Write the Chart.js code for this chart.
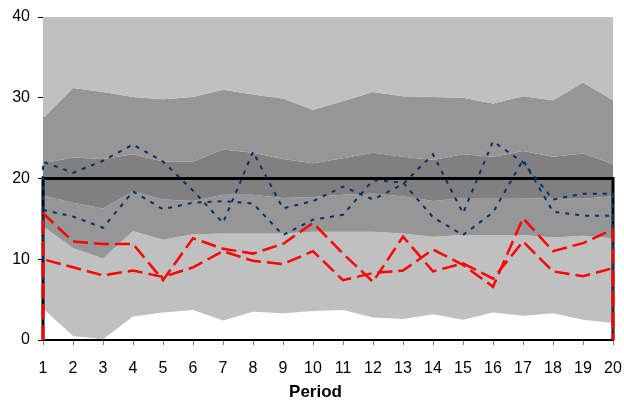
<!DOCTYPE html>
<html>
<head>
<meta charset="utf-8">
<script src="https://cdn.jsdelivr.net/npm/chart.js@4.4.0/dist/chart.umd.min.js"></script>
<style>
  html, body { margin: 0; padding: 0; background: #fff; }
  #wrap { width: 624px; height: 403px; }
</style>
</head>
<body>
<div id="wrap"><canvas id="chart" width="624" height="403"></canvas></div>
<script>
// periods on the x axis
const periods = [1,2,3,4,5,6,7,8,9,10,11,12,13,14,15,16,17,18,19,20];
const yTicks = [0,10,20,30,40];

// fan chart band boundaries, bottom to top
const bandLow      = [3.9,0.5,0.1,2.9,3.4,3.7,2.4,3.5,3.3,3.6,3.7,2.8,2.6,3.2,2.5,3.4,3.0,3.3,2.5,2.1];
const bandMidLow   = [14.1,11.4,10.1,13.5,12.4,13.1,13.2,13.2,13.2,13.4,13.4,13.4,13.2,12.8,13.0,13.0,13.0,12.7,12.9,12.6];
const bandCoreLow  = [17.9,17.0,16.3,18.4,17.4,17.2,18.0,18.0,17.6,17.7,18.0,18.1,17.8,17.2,17.6,17.6,17.6,17.5,17.5,17.8];
const bandCoreHigh = [21.9,22.6,22.4,23.0,22.1,22.1,23.6,23.2,22.4,21.9,22.5,23.2,22.7,22.3,23.0,22.7,23.4,22.7,23.1,21.8];
const bandMidHigh  = [27.5,31.2,30.7,30.1,29.8,30.1,31.0,30.4,29.9,28.5,29.6,30.7,30.2,30.1,30.0,29.3,30.2,29.7,31.9,29.7];

// target level
const target = [20,20,20,20,20,20,20,20,20,20,20,20,20,20,20,20,20,20,20,20];

// simulated paths
const blueA = [22.1,20.7,22.2,24.2,22.1,18.5,14.5,23.3,16.3,17.2,19.0,17.4,19.3,23.0,15.7,24.6,22.0,17.4,18.1,18.1];
const blueB = [16.1,15.3,13.9,18.4,16.2,17.0,17.2,16.9,13.0,14.9,15.5,19.8,19.5,15.2,13.0,15.8,22.3,15.9,15.4,15.4];
const redC  = [15.7,12.2,11.9,11.9,7.4,12.6,11.3,10.7,11.9,14.5,10.7,7.2,12.8,8.5,9.5,7.6,12.2,8.5,7.9,8.9];
const redD  = [10.0,9.0,8.0,8.6,7.8,9.0,11.0,9.8,9.4,11.0,7.4,8.3,8.6,11.2,9.3,6.6,15.1,11.0,12.0,13.7];

const FONT = '"Liberation Sans", Arial, sans-serif';

function pts(values) {
  return periods.map((p, i) => ({ x: p, y: values[i] }));
}
// area-style outline: drops to the axis at both ends
function outline(values) {
  const base = yTicks[0];
  return [{ x: periods[0], y: base }, ...pts(values), { x: periods[periods.length - 1], y: base }];
}

function pathSet(label, values, color, width, dash) {
  return {
    label: label,
    data: outline(values),
    borderColor: color,
    borderWidth: width,
    borderDash: dash,
    pointRadius: 0,
    fill: false,
    tension: 0,
    clip: false
  };
}
function bandSet(label, values, fill, color) {
  return {
    label: label,
    data: pts(values),
    borderWidth: 0,
    borderColor: 'rgba(0,0,0,0)',
    backgroundColor: color,
    pointRadius: 0,
    fill: fill,
    tension: 0
  };
}

const datasets = [
  pathSet('Path C', redC, '#ff0000', 2.5, [15, 6]),   // 0
  pathSet('Path D', redD, '#ff0000', 2.5, [15, 6]),   // 1
  pathSet('Path A', blueA, '#003366', 2, [4, 6]),     // 2
  pathSet('Path B', blueB, '#003366', 2, [4, 6]),     // 3
  pathSet('Target', target, '#000000', 3, []),        // 4
  bandSet('Top', bandMidHigh, 'end', '#c0c0c0'),      // 5
  bandSet('Upper', bandMidHigh, 7, '#969696'),        // 6
  bandSet('Core high', bandCoreHigh, 8, '#808080'),   // 7
  bandSet('Core low', bandCoreLow, 9, '#969696'),     // 8
  bandSet('Lower', bandMidLow, 10, '#c0c0c0'),        // 9
  bandSet('Low', bandLow, false, 'rgba(0,0,0,0)')     // 10
];

const TITLE_SIZE = 17;
const TITLE_PAD = 0;

// the y labels hang left of the narrow axis box; give them room to draw
const labelRoom = {
  id: 'labelRoom',
  afterLayout(chart) { chart.scales.y.left = 0; }
};

new Chart(document.getElementById('chart'), {
  type: 'line',
  data: { datasets: datasets },
  plugins: [labelRoom],
  options: {
    responsive: false,
    animation: false,
    events: [],
    layout: { padding: { top: 17, right: 11, left: 18, bottom: 0 } },
    plugins: {
      legend: { display: false },
      tooltip: { enabled: false },
      title: {
        display: true,
        position: 'bottom',
        text: 'Period',
        color: '#000',
        font: { family: FONT, size: TITLE_SIZE, weight: 'bold', lineHeight: 1.2 },
        padding: { top: 0, bottom: TITLE_PAD }
      }
    },
    scales: {
      x: {
        type: 'linear',
        min: periods[0],
        max: periods[periods.length - 1],
        afterBuildTicks: (s) => { s.ticks = periods.map(v => ({ value: v })); },
        afterFit: (s) => {
          s.height = 63 - (TITLE_SIZE * 1.2 + TITLE_PAD);
          s.paddingLeft = 0; s.paddingRight = 0;
        },
        ticks: { color: '#000', padding: 14, font: { family: FONT, size: 16 }, maxRotation: 0, autoSkip: false },
        grid: { drawOnChartArea: false, drawTicks: true, tickLength: 5, tickColor: '#808080' },
        border: { color: '#000', width: 2 }
      },
      y: {
        min: yTicks[0],
        max: yTicks[yTicks.length - 1],
        afterBuildTicks: (s) => { s.ticks = yTicks.map(v => ({ value: v })); },
        afterFit: (s) => { s.width = 25; s.paddingTop = 0; s.paddingBottom = 0; },
        ticks: { color: '#000', padding: 8, font: { family: FONT, size: 16 } },
        grid: { drawOnChartArea: false, drawTicks: true, tickLength: 5, tickColor: '#000' },
        border: { color: '#000', width: 1 }
      }
    }
  }
});
</script>
</body>
</html>
